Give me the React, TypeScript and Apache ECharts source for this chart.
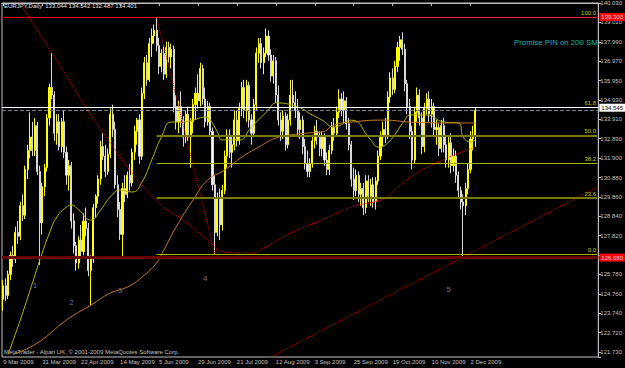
import React, { useEffect, useRef } from 'react';
import * as echarts from 'echarts';

const SYMBOL = 'EURJPY,Daily';
const FONT = '"Liberation Sans", Arial, sans-serif';

// Daily bars [open, high, low, close], 9 Mar 2009 .. 4 Dec 2009
const OHLC: [number, number, number, number][] = [
  [124.5, 125.5, 123.9, 125.2], [125.2, 125.6, 124.4, 124.7], [124.7, 126.0, 124.5, 125.8], [125.8, 127.0, 125.5, 126.8],
  [126.8, 127.3, 126.2, 126.6], [126.6, 128.3, 126.4, 128.0], [128.0, 128.6, 127.4, 127.8], [127.8, 129.6, 127.6, 129.4],
  [129.4, 130.0, 128.6, 128.9], [128.9, 131.5, 128.7, 131.3], [131.3, 132.6, 130.8, 132.3], [132.3, 134.3, 131.9, 133.0],
  [133.0, 133.8, 132.0, 132.3], [132.3, 134.0, 132.0, 133.6], [133.6, 133.8, 131.0, 131.2], [131.2, 131.5, 126.3, 128.5],
  [128.5, 130.6, 127.9, 130.4], [130.4, 131.6, 129.9, 131.4], [131.4, 134.2, 131.2, 134.0], [134.0, 135.8, 133.6, 135.6],
  [135.6, 137.4, 135.0, 135.2], [135.2, 135.4, 132.8, 133.2], [133.2, 134.2, 132.6, 133.8], [133.8, 134.2, 132.3, 132.5],
  [132.5, 134.0, 132.2, 133.8], [133.8, 134.4, 131.9, 132.2], [132.2, 132.5, 130.5, 131.0], [131.0, 131.8, 130.2, 131.5],
  [131.5, 131.7, 128.2, 128.6], [128.6, 129.0, 126.9, 127.3], [127.3, 127.5, 126.0, 126.4], [126.4, 127.8, 126.1, 127.6],
  [127.6, 128.4, 126.6, 127.0], [127.0, 129.0, 126.8, 128.6], [128.6, 129.3, 127.8, 128.2], [128.2, 128.5, 125.7, 126.0],
  [126.0, 126.8, 124.2, 126.6], [126.6, 129.5, 126.4, 129.3], [129.3, 130.0, 128.8, 129.9], [129.9, 131.0, 129.5, 130.8],
  [130.8, 132.8, 130.5, 132.5], [132.5, 133.2, 131.8, 132.0], [132.0, 132.6, 130.9, 131.2], [131.2, 132.4, 131.0, 132.1],
  [132.1, 134.5, 131.9, 134.2], [134.2, 134.7, 133.0, 133.4], [133.4, 133.8, 130.3, 130.5], [130.5, 131.0, 128.8, 129.2],
  [129.2, 129.6, 127.6, 127.9], [127.9, 130.6, 126.7, 130.3], [130.3, 131.0, 129.6, 130.0], [130.0, 131.2, 129.8, 131.0],
  [131.0, 131.6, 130.2, 130.6], [130.6, 132.4, 130.4, 132.2], [132.2, 133.6, 131.8, 133.3], [133.3, 134.0, 132.6, 133.9],
  [133.9, 134.2, 131.6, 132.0], [132.0, 135.6, 131.8, 135.3], [135.3, 137.2, 135.0, 136.9], [136.9, 137.3, 135.7, 136.0],
  [136.0, 138.2, 135.9, 137.9], [137.9, 138.7, 137.2, 138.3], [138.3, 138.9, 137.9, 138.6], [138.6, 139.3, 137.5, 137.8],
  [137.8, 138.2, 136.3, 136.7], [136.7, 137.6, 136.4, 137.4], [137.4, 137.8, 136.0, 136.3], [136.3, 138.0, 136.1, 137.7],
  [137.7, 138.0, 136.9, 137.2], [137.2, 137.9, 136.6, 137.6], [137.6, 137.8, 134.3, 134.6], [134.6, 135.2, 133.4, 133.8],
  [133.8, 134.9, 133.2, 134.6], [134.6, 135.4, 133.5, 133.9], [133.9, 134.1, 132.5, 133.0], [133.0, 134.4, 132.7, 134.2],
  [134.2, 134.6, 132.8, 133.0], [133.0, 134.0, 131.4, 133.8], [133.8, 135.0, 133.2, 134.7], [134.7, 135.6, 133.9, 135.3],
  [135.3, 136.3, 134.5, 134.9], [134.9, 136.9, 134.6, 136.6], [136.6, 136.8, 134.7, 135.0], [135.0, 135.6, 133.5, 133.8],
  [133.8, 134.9, 133.6, 134.6], [134.6, 134.8, 133.0, 133.3], [133.3, 133.5, 130.2, 130.5], [130.5, 131.0, 126.87, 128.0],
  [128.0, 130.1, 127.8, 129.8], [129.8, 130.3, 127.6, 128.4], [128.4, 130.5, 128.1, 130.2], [130.2, 132.3, 130.0, 132.0],
  [132.0, 133.4, 131.4, 133.1], [133.1, 133.4, 131.9, 132.2], [132.2, 133.0, 131.4, 132.6], [132.6, 134.4, 132.3, 133.9],
  [133.9, 134.4, 132.5, 132.8], [132.8, 134.8, 132.6, 134.5], [134.5, 135.9, 134.1, 135.6], [135.6, 136.0, 134.0, 134.4],
  [134.4, 136.0, 133.8, 135.7], [135.7, 135.9, 133.5, 133.9], [133.9, 134.2, 132.6, 133.2], [133.2, 135.0, 133.0, 134.7],
  [134.7, 137.7, 134.4, 137.4], [137.4, 138.2, 136.9, 137.9], [137.9, 138.2, 136.6, 136.9], [136.9, 137.7, 136.3, 137.4],
  [137.4, 138.7, 137.2, 138.3], [138.3, 138.6, 137.0, 137.3], [137.3, 137.6, 135.9, 136.2], [136.2, 137.3, 135.8, 137.0],
  [137.0, 137.2, 134.8, 135.2], [135.2, 135.7, 133.6, 133.9], [133.9, 134.3, 132.8, 133.3], [133.3, 134.4, 132.9, 134.1],
  [134.1, 134.3, 132.3, 132.6], [132.6, 134.2, 132.4, 133.9], [133.9, 136.0, 133.6, 135.2], [135.2, 136.0, 134.5, 134.8],
  [134.8, 135.4, 134.0, 134.4], [134.4, 135.0, 133.0, 133.4], [133.4, 134.3, 132.9, 133.9], [133.9, 134.1, 132.1, 132.5],
  [132.5, 132.9, 131.3, 131.6], [131.6, 132.3, 130.9, 131.2], [131.2, 131.9, 130.9, 131.6], [131.6, 133.1, 131.4, 132.8],
  [132.8, 133.6, 132.4, 133.3], [133.3, 133.9, 132.6, 133.0], [133.0, 133.3, 132.0, 132.4], [132.4, 133.3, 132.0, 133.0],
  [133.0, 133.2, 131.5, 131.8], [131.8, 132.2, 131.0, 131.3], [131.3, 132.6, 131.0, 132.3], [132.3, 133.8, 132.1, 133.5],
  [133.5, 134.0, 132.8, 133.2], [133.2, 134.6, 133.0, 134.3], [134.3, 135.5, 134.0, 135.0], [135.0, 135.3, 134.1, 134.4],
  [134.4, 135.4, 133.7, 134.9], [134.9, 135.1, 133.4, 133.7], [133.7, 134.0, 132.3, 132.6], [132.6, 132.8, 130.4, 130.8],
  [130.8, 131.4, 129.7, 130.2], [130.2, 131.3, 129.9, 131.0], [131.0, 131.2, 129.6, 130.0], [130.0, 130.6, 129.4, 130.3],
  [130.3, 130.6, 128.9, 129.3], [129.3, 131.0, 129.0, 130.7], [130.7, 131.0, 129.6, 129.9], [129.9, 130.8, 129.4, 130.5],
  [130.5, 130.9, 129.3, 129.6], [129.6, 130.9, 129.2, 130.7], [130.7, 132.3, 130.5, 132.0], [132.0, 133.3, 131.8, 133.0],
  [133.0, 133.8, 132.5, 133.4], [133.4, 134.0, 132.7, 133.1], [133.1, 135.4, 132.9, 135.1], [135.1, 136.4, 134.8, 136.1],
  [136.1, 136.6, 135.2, 135.5], [135.5, 137.0, 135.3, 136.7], [136.7, 138.0, 136.4, 137.7], [137.7, 138.3, 137.0, 138.1],
  [138.1, 138.5, 137.3, 137.6], [137.6, 137.9, 135.4, 135.8], [135.8, 136.0, 134.2, 134.6], [134.6, 135.0, 132.9, 133.3],
  [133.3, 133.6, 131.3, 131.8], [131.8, 134.6, 131.6, 134.3], [134.3, 135.6, 133.8, 135.2], [135.2, 135.5, 133.6, 134.0],
  [134.0, 134.3, 132.1, 132.5], [132.5, 134.8, 132.2, 134.5], [134.5, 135.3, 134.2, 135.0], [135.0, 135.4, 133.8, 134.2],
  [134.2, 135.0, 133.5, 134.6], [134.6, 134.8, 133.0, 133.4], [133.4, 133.9, 132.6, 133.5], [133.5, 133.7, 132.0, 132.4],
  [132.4, 133.9, 132.2, 133.6], [133.6, 134.0, 132.2, 132.6], [132.6, 133.0, 131.4, 131.8], [131.8, 133.0, 131.4, 132.7],
  [132.7, 133.2, 131.1, 131.5], [131.5, 132.4, 131.2, 132.0], [132.0, 132.3, 130.6, 131.0], [131.0, 131.2, 129.8, 130.2],
  [130.2, 130.4, 129.2, 129.6], [129.6, 130.0, 126.75, 129.4], [129.4, 130.6, 128.9, 130.3], [130.3, 131.6, 130.0, 131.3],
  [131.3, 133.3, 131.1, 132.9], [132.9, 133.6, 132.3, 133.044], [133.044, 134.542, 132.487, 134.401],
];

const FUTURE_BARS = 50; // empty chart-shift space on the right
const MONTHS = ['Jan', 'Feb', 'Mar', 'Apr', 'May', 'Jun', 'Jul', 'Aug', 'Sep', 'Oct', 'Nov', 'Dec'];
const LABEL_EVERY = 16;

// price scale labels; the one at 126.8 is hidden under the red price box in the reference
const Y_TICK_LABELS = [
  '140.030', '139.010', '137.990', '136.970', '135.950', '134.930', '133.910', '132.890', '131.900', '130.880',
  '129.860', '128.840', '127.820', '', '125.780', '124.760', '123.740', '122.720', '121.730',
];
const PRICE_MIN = 121.47;
const PRICE_MAX = 140.03;

// moving averages: [bar index, price]
const FAST_MA: [number, number][] = [
  [2, 121.6], [7, 123.41], [12, 125.35], [16, 126.92], [19, 127.97], [22, 128.81], [26, 129.33], [28, 129.44],
  [31, 129.18], [36, 128.65], [40, 129.18], [44, 129.86], [48, 130.22], [53, 130.12], [57, 130.64], [61, 131.8],
  [65, 133.0], [69, 133.79], [73, 133.79], [78, 133.89], [83, 134.05], [85, 133.89], [88, 133.27], [90, 132.85],
  [97, 132.85], [102, 133.53], [109, 134.42], [112, 134.79], [121, 134.58], [127, 134.16], [131, 133.89],
  [136, 133.53], [143, 133.89], [151, 132.85], [154, 132.48], [158, 132.69], [165, 133.89], [167, 134.16],
  [174, 134.16], [181, 133.79], [187, 133.74], [189, 133.0], [192, 132.74], [194, 132.85],
];
const MID_MA: [number, number][] = [
  [4, 121.6], [14, 122.2], [26, 123.41], [36, 124.19], [44, 124.82], [51, 125.14], [57, 125.66], [63, 126.4],
  [66, 127.08], [71, 128.28], [78, 129.7], [84, 130.75], [91, 131.27], [98, 131.95], [105, 132.48], [112, 132.95],
  [118, 133.11], [125, 133.21], [131, 133.27], [136, 133.63], [143, 133.79], [157, 133.89], [167, 133.79],
  [184, 133.74], [194, 133.74],
];
const SMA200: [number, number][] = [
  [5, 140.4], [20, 137.41], [44, 132.69], [64, 129.54], [74, 128.65], [84, 127.6], [91, 126.97], [102, 126.92],
  [108, 127.24], [118, 127.97], [131, 128.65], [143, 129.33], [157, 129.8], [162, 130.38], [170, 131.11],
  [178, 131.64], [187, 132.16], [194, 132.45],
];

// Fibonacci retracement: anchors (bar index, price)
const FIB_INDEX = [63, 87];
const FIB_PRICE = [139.3, 126.87];
const FIB_LEVELS = [100, 61.8, 50, 38.2, 23.6, 0];
const FIB_LABELS = ['100.0', '61.8', '50.0', '38.2', '23.6', '0.0'];
const FIB_COLORS = ['#a8a800', '#a8a800', '#7a7a00', '#b0b000', '#7a7a00', '#b0b000'];
const FIB_WIDTHS = [1, 1, 2, 1, 2, 1];

// rising trend line (bar index, price)
const TREND_INDEX = [110, 244];
const TREND_PRICE = [121.47, 130.36];

// horizontal price lines
const HIGH_LINE = 139.3;
const WHITE_LINE = 134.545;
const BID_LINE = 134.401;
const SUPPORT_LINE = 126.68;

const WAVE_LABELS = ['1', '2', '3', '4', '5'];
const WAVE_INDEX = [13, 28, 48, 83, 183];
const WAVE_PRICE = [125.24, 124.35, 124.98, 125.56, 125.03];

function buildDates(n: number): string[] {
  const out: string[] = [];
  let t = Date.UTC(2009, 2, 9);
  while (out.length < n) {
    const d = new Date(t);
    const wd = d.getUTCDay();
    if (wd !== 0 && wd !== 6) out.push(`${d.getUTCDate()} ${MONTHS[d.getUTCMonth()]} ${d.getUTCFullYear()}`);
    t += 86400000;
  }
  return out;
}

export default function App() {
  const ref = useRef<HTMLDivElement>(null);
  useEffect(() => {
    if (!ref.current) return;
    const chart = echarts.init(ref.current, undefined, { renderer: 'svg' });
    const n = OHLC.length;
    const dates = buildDates(n + FUTURE_BARS);
    const last = dates.length - 1;
    const showIdx = (i: number) => i % LABEL_EVERY === 0 && i < n;
    const lastBar = OHLC[n - 1];
    const fibHi = FIB_PRICE[0];
    const fibLo = FIB_PRICE[1];

    const hLine = (value: number, color: string, width: number, type: string, label?: any) => ({
      yAxis: value,
      lineStyle: { color, width, type, opacity: 1 },
      label: label ? { show: true, position: 'end', distance: 1, ...label } : { show: false },
    });

    const boxLabel = (value: number, bg: string, fg: string) => ({
      formatter: value.toFixed(3),
      backgroundColor: bg,
      color: fg,
      fontSize: 6,
      fontFamily: FONT,
      padding: [1, 2, 1, 2],
    });

    const fibLines = FIB_LEVELS.map((lv, k) => {
      const price = fibLo + ((fibHi - fibLo) * lv) / 100;
      return [
        {
          coord: [FIB_INDEX[0], price],
          lineStyle: { color: FIB_COLORS[k], width: FIB_WIDTHS[k], type: 'solid', opacity: 1 },
          label: {
            show: true,
            position: 'insideEndTop',
            formatter: FIB_LABELS[k],
            color: '#c8c800',
            fontSize: 6,
            fontFamily: FONT,
            distance: 1,
          },
        },
        { coord: [last, price] },
      ];
    });

    const option: any = {
      animation: false,
      backgroundColor: '#000000',
      textStyle: { fontFamily: FONT },
      grid: {
        left: 2,
        right: 22,
        top: 3,
        bottom: 11,
        show: true,
        backgroundColor: '#000000',
        borderColor: '#c0c0c0',
        borderWidth: 1,
      },
      xAxis: {
        type: 'category',
        data: dates,
        boundaryGap: true,
        axisLine: { show: true, lineStyle: { color: '#c0c0c0' } },
        axisTick: {
          show: true,
          alignWithLabel: true,
          interval: (i: number) => showIdx(i),
          length: 3,
          lineStyle: { color: '#c0c0c0' },
        },
        axisLabel: {
          interval: (i: number) => showIdx(i),
          align: 'left',
          color: '#c0c0c0',
          fontSize: 6,
          fontFamily: FONT,
          margin: 2,
        },
        splitLine: { show: false },
      },
      yAxis: [
        {
          type: 'value',
          min: PRICE_MIN,
          max: PRICE_MAX,
          show: false,
          splitLine: { show: false },
        },
        {
          type: 'value',
          position: 'right',
          inverse: true,
          min: 0,
          max: 18 + (PRICE_MAX - PRICE_MIN - 18.3) / (18.3 / 18),
          interval: 1,
          axisLine: { show: true, lineStyle: { color: '#c0c0c0' } },
          axisTick: { show: true, length: 3, lineStyle: { color: '#c0c0c0' } },
          splitLine: { show: false },
          axisLabel: {
            color: '#c0c0c0',
            fontSize: 6,
            fontFamily: FONT,
            margin: 2,
            formatter: (v: number) => {
              const i = Math.round(v);
              return Math.abs(v - i) < 1e-6 && Y_TICK_LABELS[i] ? Y_TICK_LABELS[i] : '';
            },
          },
        },
      ],
      graphic: [
        {
          type: 'text',
          left: 4,
          top: 3,
          style: {
            text: `${SYMBOL}  ${lastBar[0].toFixed(3)} ${lastBar[1].toFixed(3)} ${lastBar[2].toFixed(3)} ${lastBar[3].toFixed(3)}`,
            fill: '#e0e0e0',
            fontSize: 6,
            fontFamily: FONT,
          },
        },
        {
          type: 'text',
          left: 4,
          top: 349,
          style: {
            text: 'MetaTrader - Alpari UK, © 2001-2009 MetaQuotes Software Corp.',
            fill: '#c0c0c0',
            fontSize: 6,
            fontFamily: FONT,
          },
        },
        {
          type: 'text',
          left: 514,
          top: 38,
          style: {
            text: 'Promise PIN on 200 SMA',
            fill: '#20b2aa',
            fontSize: 7.8,
            fontFamily: FONT,
            width: 88,
            overflow: 'truncate',
            ellipsis: '',
          },
        },
      ],
      series: [
        {
          type: 'candlestick',
          xAxisIndex: 0,
          yAxisIndex: 0,
          barWidth: 1.6,
          data: OHLC.map(([o, h, l, c]) => [o, c, l, h]),
          itemStyle: {
            color: '#ffff00',
            borderColor: '#ffff00',
            color0: '#ffffff',
            borderColor0: '#d8d8d8',
            borderWidth: 1,
          },
        },
        {
          type: 'line',
          name: 'MA fast',
          data: FAST_MA,
          smooth: true,
          showSymbol: false,
          symbol: 'none',
          lineStyle: { color: '#b4b400', width: 1 },
        },
        {
          type: 'line',
          name: 'MA mid',
          data: MID_MA,
          smooth: true,
          showSymbol: false,
          symbol: 'none',
          lineStyle: { color: '#c8781e', width: 1 },
        },
        {
          type: 'line',
          name: 'SMA 200',
          data: SMA200,
          smooth: true,
          showSymbol: false,
          symbol: 'none',
          clip: true,
          lineStyle: { color: '#ff0000', width: 1, type: 'dotted' },
        },
        {
          type: 'line',
          name: 'trend',
          data: TREND_INDEX.map((x, k) => [x, TREND_PRICE[k]]),
          showSymbol: false,
          symbol: 'none',
          clip: true,
          lineStyle: { color: '#e00000', width: 1, type: 'dotted' },
        },
        {
          type: 'line',
          name: 'fib',
          data: FIB_INDEX.map((x, k) => [x, FIB_PRICE[k]]),
          showSymbol: false,
          symbol: 'none',
          lineStyle: { color: '#d00000', width: 1, type: 'dotted' },
          markLine: {
            silent: true,
            symbol: ['none', 'none'],
            animation: false,
            data: [
              hLine(SUPPORT_LINE, '#6a0000', 3, 'solid', boxLabel(SUPPORT_LINE, '#ff0000', '#ffd0d0')),
              ...fibLines,
              hLine(HIGH_LINE, '#ff0000', 1, 'dotted', boxLabel(HIGH_LINE, '#ff0000', '#ffd0d0')),
              hLine(BID_LINE, '#708090', 1, 'dashed'),
              hLine(WHITE_LINE, '#ffffff', 1, 'solid', boxLabel(WHITE_LINE, '#ffffff', '#000000')),
            ],
          },
        },
        {
          type: 'scatter',
          name: 'waves',
          symbol: 'circle',
          symbolSize: 1,
          itemStyle: { color: 'rgba(0,0,0,0)' },
          data: WAVE_INDEX.map((x, k) => ({
            value: [x, WAVE_PRICE[k]],
            label: { show: true, formatter: WAVE_LABELS[k] },
          })),
          label: { show: true, position: 'inside', color: '#8890a8', fontSize: 8, fontFamily: FONT },
        },
      ],
    };
    chart.setOption(option);
    return () => chart.dispose();
  }, []);
  return (
    <div
      ref={ref}
      style={{ position: 'fixed', left: 0, top: 0, width: 625, height: 368, background: '#000' }}
    />
  );
}
